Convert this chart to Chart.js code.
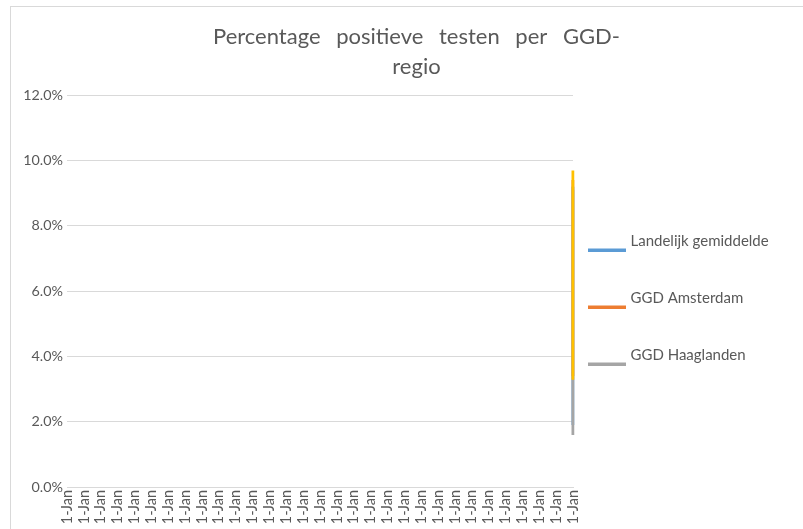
<!DOCTYPE html>
<html><head><meta charset="utf-8">
<script src="https://cdn.jsdelivr.net/npm/chart.js@4.4.1/dist/chart.umd.min.js"></script>
<style>
html,body{margin:0;padding:0;background:#fff;overflow:hidden;width:803px;height:529px;}
#frame{position:absolute;left:10px;top:6px;width:900px;height:600px;border:1px solid #d9d9d9;box-sizing:border-box;}
#c{position:absolute;left:11px;top:7px;}
</style></head><body>
<div id="frame"></div>
<canvas id="c" width="811" height="522"></canvas>
<script>
// ---- data ----
const categories = ['1-Jan','1-Jan','1-Jan','1-Jan','1-Jan','1-Jan','1-Jan','1-Jan','1-Jan','1-Jan',
  '1-Jan','1-Jan','1-Jan','1-Jan','1-Jan','1-Jan','1-Jan','1-Jan','1-Jan','1-Jan',
  '1-Jan','1-Jan','1-Jan','1-Jan','1-Jan','1-Jan','1-Jan','1-Jan','1-Jan','1-Jan','1-Jan'];
const seriesNames = ['Landelijk gemiddelde', 'GGD Amsterdam', 'GGD Haaglanden', 'Reeks 4'];
const landelijk  = [2.0, 1.9, 2.4, 3.1, 4.6, 5.8, 7.2, 8.4, 9.19, 8.9, 8.1];
const amsterdam  = [3.6, 3.4, 4.2, 5.5, 6.9, 8.0, 8.9, 9.4, 8.7];
const haaglanden = [1.7, 1.59, 2.1, 3.0, 4.3, 5.9, 7.1, 8.3, 9.1, 8.6];
const reeks4     = [3.5, 3.28, 4.0, 5.2, 6.6, 7.9, 8.8, 9.69, 9.3];
const seriesValues = [landelijk, amsterdam, haaglanden, reeks4];
const legendSeries = ['Landelijk gemiddelde', 'GGD Amsterdam', 'GGD Haaglanden'];

// ---- styling ----
const colors = ['#5B9BD5', '#ED7D31', '#A5A5A5', '#FFC000'];
const drawOrder = [3, 2, 1, 0];
const textColor = '#595959';
const gridColor = '#d9d9d9';
const legendWidth = 249;

function swatch(color) {
  const c = document.createElement('canvas');
  c.width = 38; c.height = 20;
  const g = c.getContext('2d');
  g.fillStyle = color;
  g.fillRect(0, 17, 38, 3);
  return c;
}
const swatches = colors.map(swatch);

Chart.defaults.font.family = 'Lato';
Chart.defaults.color = textColor;

const lastIndex = categories.length - 1;
const datasets = seriesNames.map((name, i) => ({
  label: name,
  data: seriesValues[i].map(v => ({ x: lastIndex, y: v })),
  borderColor: colors[i],
  backgroundColor: colors[i],
  borderWidth: 3,
  pointRadius: 0,
  pointHoverRadius: 0,
  tension: 0,
  fill: false,
  order: drawOrder[i]
}));

const layoutTweaks = {
  id: 'layoutTweaks',
  beforeLayout(chart) {
    const lg = chart.legend;
    if (lg && !lg._fitPatched) {
      const f = lg.fit.bind(lg);
      lg.fit = function () { f(); this.width = legendWidth; };
      lg._fitPatched = true;
    }
  },
  beforeDraw(chart) {
    const tb = chart.titleBlock;
    if (tb && !tb._wsPatched) {
      const orig = tb.draw.bind(tb);
      tb.draw = function (...a) {
        const ctx = chart.ctx;
        const prev = ctx.wordSpacing;
        ctx.wordSpacing = '10px';
        orig(...a);
        ctx.wordSpacing = prev || '0px';
      };
      tb._wsPatched = true;
    }
  }
};

new Chart(document.getElementById('c'), {
  type: 'line',
  data: { labels: categories, datasets },
  plugins: [layoutTweaks],
  options: {
    responsive: false,
    animation: false,
    devicePixelRatio: 1,
    parsing: false,
    layout: { padding: 0 },
    plugins: {
      tooltip: { enabled: false },
      title: {
        display: true,
        text: ['Percentage positieve testen per GGD-', 'regio'],
        color: textColor,
        font: { family: 'Lato', size: 22, weight: 'normal', lineHeight: 30 / 22 },
        padding: { top: 15.3, bottom: 12.7 }
      },
      legend: {
        position: 'right',
        align: 'start',
        fullSize: false,
        title: { display: true, text: '', font: { size: 10, lineHeight: 1 }, padding: { top: 111, bottom: 0 } },
        labels: {
          usePointStyle: true,
          pointStyleWidth: 32,
          padding: 18,
          color: textColor,
          font: { family: 'Lato', size: 15, lineHeight: 39 / 15 },
          generateLabels(chart) {
            const items = Chart.defaults.plugins.legend.labels.generateLabels(chart);
            return items
              .filter(it => legendSeries.includes(it.text))
              .map(it => Object.assign(it, { text: [it.text], pointStyle: swatches[it.datasetIndex] }));
          },
          sort: (a, b) => a.datasetIndex - b.datasetIndex
        }
      }
    },
    scales: {
      x: {
        type: 'category',
        offset: false,
        grid: { display: false, drawTicks: false },
        border: { display: true, color: gridColor, width: 1 },
        ticks: { autoSkip: false, maxRotation: 90, minRotation: 90, padding: 3, color: textColor, font: { family: 'Lato', size: 14.5 } },
        afterFit(s) { s.height = 42; }
      },
      y: {
        min: 0, max: 12,
        grid: { color: gridColor, drawTicks: false },
        border: { display: false },
        ticks: { stepSize: 2, padding: 4, color: textColor, font: { family: 'Lato', size: 14.3 }, callback: v => v.toFixed(1) + '%' },
        afterFit(s) { s.width = 56; }
      }
    }
  }
});
</script>
</body></html>
